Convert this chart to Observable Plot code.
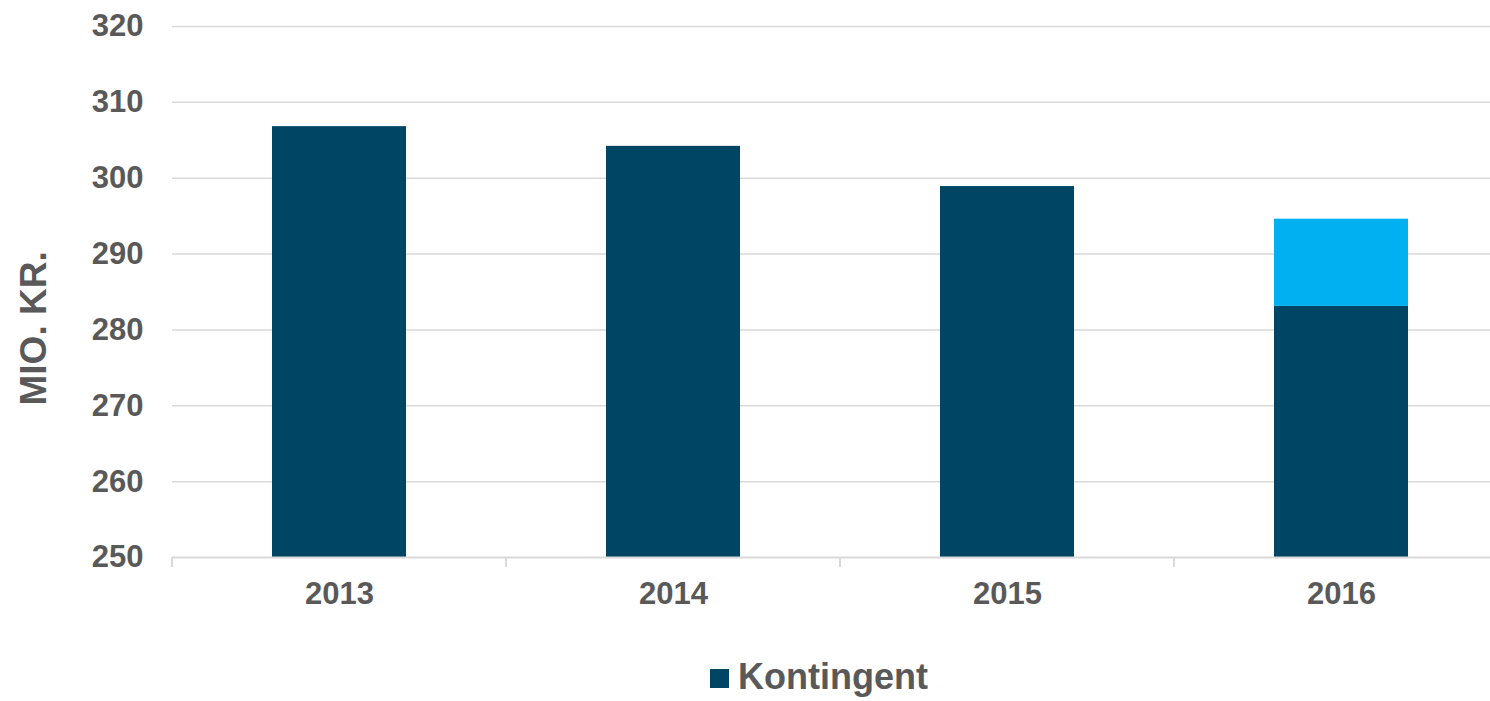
<!DOCTYPE html>
<html>
<head>
<meta charset="utf-8">
<script src="https://cdn.jsdelivr.net/npm/d3@7"></script>
<script src="https://cdn.jsdelivr.net/npm/@observablehq/plot@0.6"></script>
<style>
  body { margin: 0; background: #fff; font-family: "Liberation Sans", Arial, sans-serif; }
  #wrap { position: relative; width: 1490px; height: 701px; overflow: hidden; }
  #legend { position: absolute; left: 710px; top: 656px; display: flex; align-items: center; color: #595959; font-weight: bold; font-size: 36px; line-height: 42px; }
  #legend .sw { width: 19px; height: 19px; background: #004563; margin-right: 9px; margin-top: 2px; }
</style>
</head>
<body>
<div id="wrap">
  <div id="chart"></div>
  <div id="legend"><span class="sw"></span><span>Kontingent</span></div>
</div>
<script>
const years = ["2013", "2014", "2015", "2016"];
const kontingent = [306.8, 304.2, 298.9, 283.1];
const extra = [0, 0, 0, 11.5];
const yTicks = [250, 260, 270, 280, 290, 300, 310, 320];
const yLabel = "MIO. KR.";

const rows = [];
years.forEach((y, i) => {
  rows.push({year: y, series: "Kontingent", value: kontingent[i]});
  rows.push({year: y, series: "Øvrigt", value: extra[i]});
});

const grey = "#595959";
const gridColor = "#d9d9d9";

const chart = Plot.plot({
  width: 1490,
  height: 620,
  marginLeft: 172,
  marginRight: 0,
  marginTop: 26,
  marginBottom: 63,
  style: {fontFamily: "'Liberation Sans', Arial, sans-serif", color: grey, background: "#fff"},
  x: {domain: years, range: [172, 1508], paddingInner: 0.6, paddingOuter: 0.3},
  y: {domain: [250, 320]},
  color: {domain: ["Kontingent", "Øvrigt"], range: ["#004563", "#00b0f0"]},
  marks: [
    Plot.ruleY(yTicks.slice(1), {y: d => d, stroke: gridColor, strokeWidth: 1.5}),
    Plot.barY(rows, {x: "year", y: "value", fill: "series", order: ["Kontingent", "Øvrigt"], clip: true}),
    Plot.ruleY([250], {stroke: gridColor, strokeWidth: 2}),
    Plot.ruleX(years, {
      x: d => d,
      render: (I, scales, values, dims) => {
        const sx = scales.x;
        const val = v => (typeof v === "function" ? v.call(sx) : v);
        const starts = years.map(yr => sx(yr));
        const step = val(sx.step) ?? (starts[1] - starts[0]);
        const bw = val(sx.bandwidth) ?? 0;
        const bounds = starts.map(s => s + bw / 2 - step / 2);
        const y0 = scales.y(250);
        const g = d3.create("svg:g");
        g.selectAll("line").data(bounds).join("line")
          .attr("x1", d => d).attr("x2", d => d)
          .attr("y1", y0).attr("y2", y0 + 10)
          .attr("stroke", gridColor).attr("stroke-width", 2);
        return g.node();
      }
    }),
    Plot.axisY(yTicks, {tickSize: 0, tickPadding: 29, fontSize: 31, fontWeight: "bold", fill: grey, label: null}),
    Plot.axisX({tickSize: 0, tickPadding: 24, fontSize: 31, fontWeight: "bold", fill: grey, label: null}),
    Plot.text([yLabel], {
      frameAnchor: "left", dx: -138, rotate: -90, textAnchor: "middle", fontSize: 37, fontWeight: "bold", fill: grey,
      text: d => d, y: () => 280.2
    })
  ]
});
document.getElementById("chart").appendChild(chart);
</script>
</body>
</html>
